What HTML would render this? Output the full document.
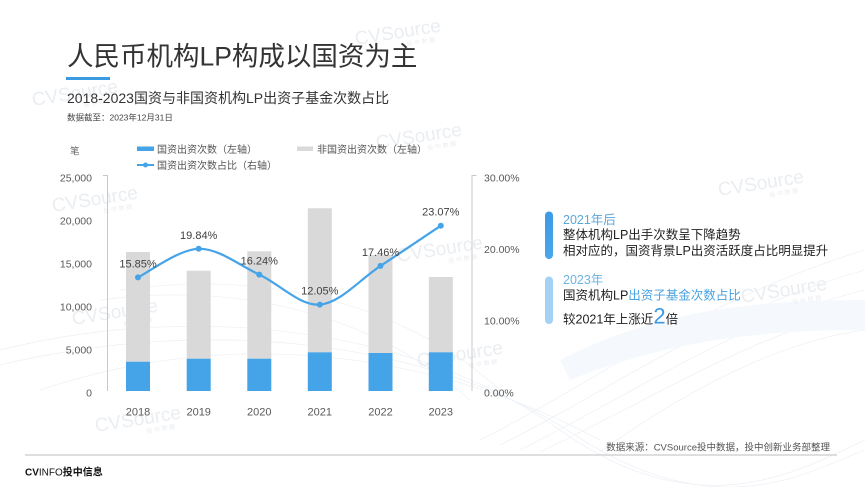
<!DOCTYPE html>
<html>
<head>
<meta charset="utf-8">
<style>
html,body{margin:0;padding:0;background:#fff;}
body{width:865px;height:487px;overflow:hidden;}
svg{display:block;}
text{font-family:"Liberation Sans","Noto Sans CJK SC",sans-serif;}
</style>
</head>
<body>
<svg width="865" height="487" viewBox="0 0 865 487" xmlns="http://www.w3.org/2000/svg">
  <rect width="865" height="487" fill="#ffffff"/>
  <!-- faint background waves -->
  <g fill="none" stroke="#eef1f6" stroke-width="0.8">
    <path d="M0 350 C200 300 420 330 560 430 S800 470 865 440"/>
    <path d="M0 365 C210 315 430 340 575 435 S810 470 865 450"/>
    <path d="M40 390 C250 320 450 360 600 440"/>
    <path d="M480 440 C600 380 700 300 865 250"/>
    <path d="M500 445 C620 385 720 310 865 270"/>
    <path d="M520 450 C640 390 740 320 865 290"/>
    <path d="M540 452 C660 395 760 330 865 310"/>
    <path d="M600 452 C700 380 790 340 865 330"/>
    <path d="M100 300 C250 280 380 320 470 400"/>
    <path d="M120 290 C260 270 400 300 500 390"/>
  </g>
  <path d="M560 360 C640 320 720 300 865 300 L865 330 C740 330 660 345 570 380 Z" fill="#f5f8fc"/>

  <!-- watermarks -->
  <g fill="#eaedf1" font-size="19" >
    <g transform="translate(356,45) rotate(-9)"><text x="0" y="0">CVSource</text><text x="50" y="9" font-size="6">投 中 数 据</text></g>
    <g transform="translate(33,106) rotate(-9)"><text x="0" y="0">CVSource</text><text x="50" y="9" font-size="6">投 中 数 据</text></g>
    <g transform="translate(377,149) rotate(-9)"><text x="0" y="0">CVSource</text><text x="50" y="9" font-size="6">投 中 数 据</text></g>
    <g transform="translate(53,212) rotate(-9)"><text x="0" y="0">CVSource</text><text x="50" y="9" font-size="6">投 中 数 据</text></g>
    <g transform="translate(73,325) rotate(-9)"><text x="0" y="0">CVSource</text><text x="50" y="9" font-size="6">投 中 数 据</text></g>
    <g transform="translate(398,262) rotate(-9)"><text x="0" y="0">CVSource</text><text x="50" y="9" font-size="6">投 中 数 据</text></g>
    <g transform="translate(418,367) rotate(-9)"><text x="0" y="0">CVSource</text><text x="50" y="9" font-size="6">投 中 数 据</text></g>
    <g transform="translate(96,432) rotate(-9)"><text x="0" y="0">CVSource</text><text x="50" y="9" font-size="6">投 中 数 据</text></g>
    <g transform="translate(719,196) rotate(-9)"><text x="0" y="0">CVSource</text><text x="50" y="9" font-size="6">投 中 数 据</text></g>
    <g transform="translate(742,303) rotate(-9)"><text x="0" y="0">CVSource</text><text x="50" y="9" font-size="6">投 中 数 据</text></g>
  </g>

  <!-- title -->
  <text x="67" y="65.5" font-size="26.5" fill="#333">人民币机构LP构成以国资为主</text>
  <rect x="66" y="77" width="44" height="3" fill="#3a9be0"/>
  <text x="67" y="103" font-size="14" fill="#333">2018-2023国资与非国资机构LP出资子基金次数占比</text>
  <text x="67" y="120.5" font-size="8.5" fill="#444">数据截至：2023年12月31日</text>

  <!-- legend -->
  <text x="70" y="154.5" font-size="9.5" fill="#666">笔</text>
  <rect x="137" y="146.5" width="17" height="4.5" fill="#45a3e8"/>
  <text x="157" y="153" font-size="10" fill="#555">国资出资次数（左轴）</text>
  <rect x="297" y="146.5" width="16" height="4.5" fill="#d9d9d9"/>
  <text x="317" y="153" font-size="10" fill="#555">非国资出资次数（左轴）</text>
  <line x1="137" y1="165" x2="154" y2="165" stroke="#45a3e8" stroke-width="2"/>
  <circle cx="145.5" cy="165" r="2.5" fill="#45a3e8"/>
  <text x="157" y="168.8" font-size="10" fill="#555">国资出资次数占比（右轴）</text>

  <!-- axes -->
  <g stroke="#c8c8c8" stroke-width="1" fill="none">
    <path d="M103 175.5 H107.5 V391"/>
    <path d="M476.5 175.5 H472 V391"/>
  </g>
  <!-- left labels -->
  <g font-size="10.5" fill="#595959" text-anchor="end">
    <text x="92" y="181.3">25,000</text>
    <text x="92" y="224.3">20,000</text>
    <text x="92" y="267.3">15,000</text>
    <text x="92" y="310.3">10,000</text>
    <text x="92" y="353.3">5,000</text>
    <text x="92" y="396.3">0</text>
  </g>
  <g font-size="10.5" fill="#595959">
    <text x="484" y="181.3">30.00%</text>
    <text x="484" y="253">20.00%</text>
    <text x="484" y="324.6">10.00%</text>
    <text x="484" y="396.3">0.00%</text>
  </g>

  <!-- bars -->
  <g fill="#d9d9d9">
    <rect x="126" y="252" width="24" height="109.7"/>
    <rect x="186.7" y="270.7" width="24" height="88"/>
    <rect x="247.3" y="251.3" width="24" height="107.4"/>
    <rect x="307.8" y="208.3" width="24" height="144"/>
    <rect x="368.5" y="255" width="24" height="98"/>
    <rect x="428.8" y="277" width="24" height="75.3"/>
  </g>
  <g fill="#45a3e8">
    <rect x="126" y="361.7" width="24" height="29.3"/>
    <rect x="186.7" y="358.7" width="24" height="32.3"/>
    <rect x="247.3" y="358.7" width="24" height="32.3"/>
    <rect x="307.8" y="352.3" width="24" height="38.7"/>
    <rect x="368.5" y="353" width="24" height="38"/>
    <rect x="428.8" y="352.3" width="24" height="38.7"/>
  </g>

  <!-- line -->
  <path d="M138 277.4 C148.1 272.6 178.5 249.3 198.7 248.8 C218.9 248.3 239.1 265.3 259.3 274.6 C279.5 283.9 299.6 306.05 319.8 304.6 C340 303.15 360.3 279.05 380.5 265.9 C400.7 252.75 430.75 232.4 440.8 225.7" fill="none" stroke="#45a3e8" stroke-width="2.2"/>
  <g fill="#45a3e8">
    <circle cx="138" cy="277.4" r="3"/>
    <circle cx="198.7" cy="248.8" r="3"/>
    <circle cx="259.3" cy="274.6" r="3"/>
    <circle cx="319.8" cy="304.6" r="3"/>
    <circle cx="380.5" cy="265.9" r="3"/>
    <circle cx="440.8" cy="225.7" r="3"/>
  </g>
  <g font-size="11" fill="#404040" text-anchor="middle">
    <text x="138" y="267.4">15.85%</text>
    <text x="198.7" y="238.8">19.84%</text>
    <text x="259.3" y="264.6">16.24%</text>
    <text x="319.8" y="294.6">12.05%</text>
    <text x="380.5" y="255.9">17.46%</text>
    <text x="440.8" y="215.7">23.07%</text>
  </g>

  <!-- x labels -->
  <g font-size="11" fill="#595959" text-anchor="middle">
    <text x="138" y="415.4">2018</text>
    <text x="198.7" y="415.4">2019</text>
    <text x="259.3" y="415.4">2020</text>
    <text x="319.8" y="415.4">2021</text>
    <text x="380.5" y="415.4">2022</text>
    <text x="440.8" y="415.4">2023</text>
  </g>

  <!-- right panel -->
  <defs>
    <linearGradient id="g1" x1="0" y1="0" x2="0" y2="1">
      <stop offset="0" stop-color="#3c9be6"/>
      <stop offset="1" stop-color="#4aa6ea"/>
    </linearGradient>
  </defs>
  <rect x="545" y="211.5" width="8" height="47.5" rx="4" fill="url(#g1)"/>
  <rect x="545" y="276.5" width="8" height="47.5" rx="4" fill="#a3d2f5"/>
  <text x="563" y="224" font-size="12.5" fill="#5ba7d8">2021年后</text>
  <text x="563" y="238.8" font-size="12.5" fill="#1f1f1f">整体机构LP出手次数呈下降趋势</text>
  <text x="563" y="254.8" font-size="12.5" fill="#1f1f1f">相对应的，国资背景LP出资活跃度占比明显提升</text>
  <text x="563" y="284.2" font-size="12.5" fill="#6fb3e0">2023年</text>
  <text x="563" y="299.7" font-size="12.5" fill="#1f1f1f">国资机构LP<tspan fill="#4aa3e0">出资子基金次数占比</tspan></text>
  <text x="563" y="323.5" font-size="12.5" fill="#1f1f1f">较2021年上涨近<tspan font-size="22" fill="#3c9be6">2</tspan>倍</text>

  <!-- footer -->
  <text x="830" y="450.6" font-size="9.5" fill="#555" text-anchor="end">数据来源：CVSource投中数据，投中创新业务部整理</text>
  <line x1="25" y1="455" x2="837" y2="455" stroke="#d4d4d4" stroke-width="1.5"/>
  <text x="25" y="475.5" font-size="10" fill="#111"><tspan font-weight="bold">CV</tspan>INFO<tspan font-weight="bold">投中信息</tspan></text>
</svg>
</body>
</html>
